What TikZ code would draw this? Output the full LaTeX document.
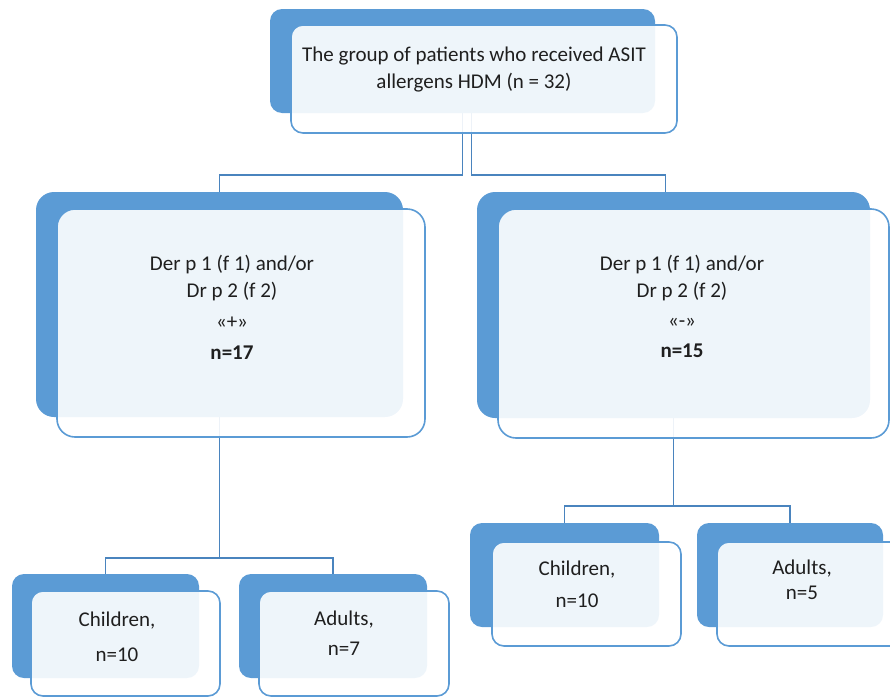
\documentclass[tikz,border=0pt]{standalone}
\usepackage{fontspec}
\setmainfont{Carlito}
\usetikzlibrary{calc}
\pgfdeclarelayer{background}
\pgfsetlayers{background,main}
\definecolor{boxblue}{HTML}{5B9BD5}
\definecolor{lineblue}{HTML}{4A84BE}

\begin{document}
\begin{tikzpicture}[x=1pt,y=-1pt,
	back/.style={draw=none,fill=boxblue,rounded corners=#1,inner sep=0pt},
	back/.default=12pt,
	front/.style={draw=boxblue,line width=1.6pt,fill=white,fill opacity=0.9,rounded corners=#1,inner sep=0pt},
	front/.default=12pt,
	txt/.style={align=center,font=\fontsize{21}{27}\selectfont,text=black!88},
	link/.style={draw=lineblue,line width=1.9pt}]
		\useasboundingbox (0,0) rectangle (890,696);
		\clip (0,0) rectangle (890,696);
		% top
		\node[back,minimum width=385pt,minimum height=104pt] (topback) at (462.5,61) {};
		\node[front,minimum width=386pt,minimum height=108pt] (top) at (484,79) {};
		\node[txt] (toptext) at (474,70) {The group of patients who received ASIT\\allergens HDM (n = 32)};
		% second row
		\node[back=18pt,minimum width=367pt,minimum height=225pt] (lback) at (219.5,304.5) {};
		\node[front=18pt,minimum width=368pt,minimum height=228pt] (left) at (241,323) {};
		\node[txt] (lefttext) at (232,307) {Der p 1 (f 1) and/or\\Dr p 2 (f 2)\\[4pt]«+»\\[4pt]\textbf{n=17}};
		\node[back=18pt,minimum width=393pt,minimum height=226pt] (rback) at (673.5,305) {};
		\node[front=18pt,minimum width=391pt,minimum height=229pt] (right) at (693.5,323.5) {};
		\node[txt] (righttext) at (682,306) {Der p 1 (f 1) and/or\\Dr p 2 (f 2)\\[3pt]«-»\\[3pt]\textbf{n=15}};
		% third row, left
		\node[back,minimum width=187pt,minimum height=104pt] (lcback) at (105.5,626) {};
		\node[front,minimum width=189pt,minimum height=105pt] (lchild) at (125.5,643.5) {};
		\node[txt] (lchildtext) at (117,637) {Children,\\[8pt]n=10};
		\node[back,minimum width=188pt,minimum height=104pt] (laback) at (333,626) {};
		\node[front,minimum width=190pt,minimum height=105pt] (ladult) at (354,643.5) {};
		\node[txt] (ladulttext) at (344,633) {Adults,\\[3pt]n=7};
		% third row, right
		\node[back,minimum width=189pt,minimum height=104pt] (rcback) at (564.5,575) {};
		\node[front,minimum width=189pt,minimum height=104pt] (rchild) at (586.5,594) {};
		\node[txt] (rchildtext) at (577,584) {Children,\\[5pt]n=10};
		\node[back,minimum width=186pt,minimum height=104pt] (raback) at (790,575) {};
		\node[front,minimum width=189pt,minimum height=104pt] (radult) at (811.5,594) {};
		\node[txt] (radulttext) at (802,580) {Adults,\\[-2pt]n=5};
		% connectors
		\begin{pgfonlayer}{background}
		\draw[link] (topback.south) -- ++(0,62) -| (lback.north);
		\draw[link] ([xshift=9pt]topback.south) -- ++(0,62) -| ([xshift=-8pt]rback.north);
		\draw[link] (lback.south) -- ++(0,141) -| (lcback.north);
		\draw[link] (lback.south) -- ++(0,141) -| (laback.north);
		\draw[link] (rback.south) -- ++(0,88) -| (rcback.north);
		\draw[link] (rback.south) -- ++(0,88) -| (raback.north);
		\end{pgfonlayer}
\end{tikzpicture}
\end{document}
